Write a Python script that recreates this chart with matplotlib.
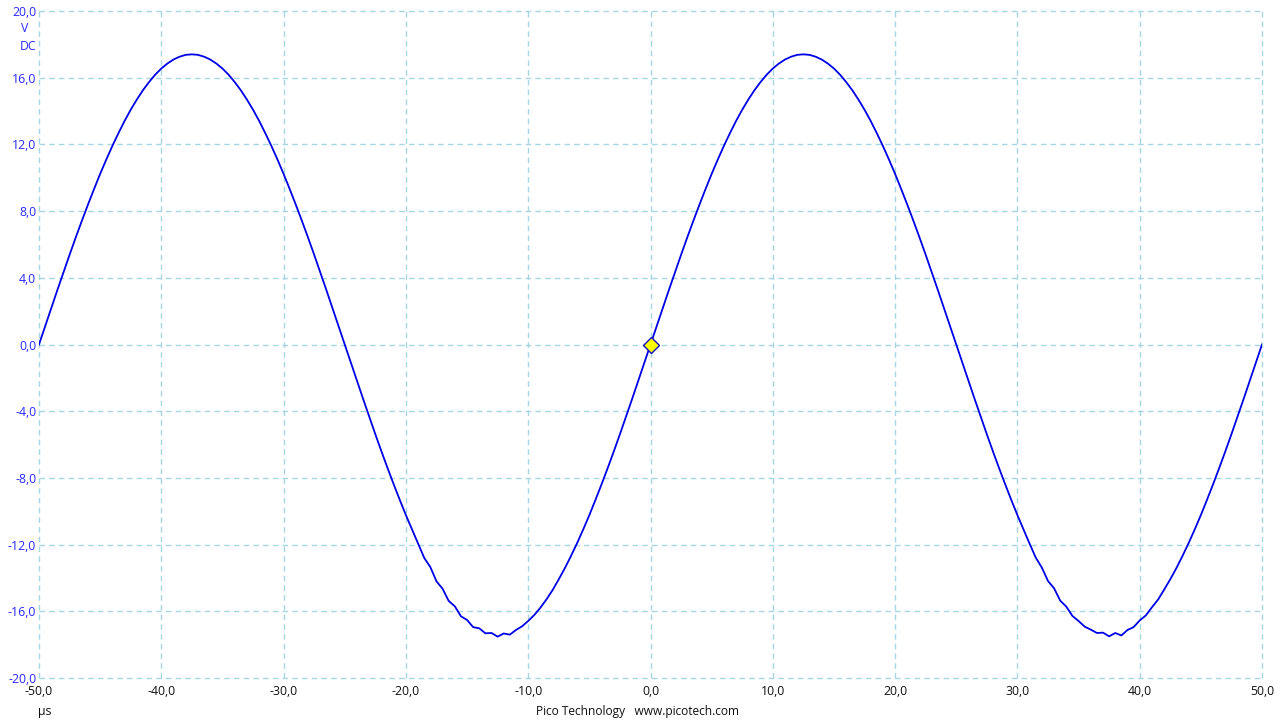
import numpy as np
import matplotlib.pyplot as plt

plt.rcParams['font.family'] = ['Open Sans', 'DejaVu Sans']

rise_1 = [0.00, 1.09, 2.18, 3.26, 4.33, 5.38, 6.41, 7.41, 8.38, 9.32, 10.23,
          11.09, 11.91, 12.68, 13.41, 14.08, 14.69, 15.25, 15.74, 16.18, 16.55,
          16.85, 17.09, 17.26, 17.37, 17.40, 17.37, 17.26, 17.09, 16.85, 16.55,
          16.18, 15.74, 15.25, 14.69, 14.08, 13.41, 12.68, 11.91, 11.09, 10.23,
          9.32, 8.38, 7.41, 6.41, 5.38, 4.33, 3.26, 2.18, 1.09, 0.00]
fall_1 = [-1.09, -2.18, -3.26, -4.33, -5.38, -6.41, -7.41, -8.38, -9.32, -10.23,
          -11.09, -11.95, -12.80, -13.35, -14.20, -14.65, -15.38, -15.70, -16.30,
          -16.52, -16.95, -17.02, -17.32, -17.30, -17.52, -17.33, -17.40, -17.12,
          -16.90, -16.58, -16.22, -15.78, -15.28, -14.72, -14.08, -13.41, -12.68,
          -11.91, -11.09, -10.23, -9.32, -8.38, -7.41, -6.41, -5.38, -4.33, -3.26,
          -2.18, -1.09, 0.00]
rise_2 = [1.09, 2.18, 3.26, 4.33, 5.38, 6.41, 7.41, 8.38, 9.32, 10.23,
          11.09, 11.91, 12.68, 13.41, 14.08, 14.69, 15.25, 15.74, 16.18, 16.55,
          16.85, 17.09, 17.26, 17.37, 17.40, 17.37, 17.26, 17.09, 16.85, 16.55,
          16.18, 15.74, 15.25, 14.69, 14.08, 13.41, 12.68, 11.91, 11.09, 10.23,
          9.32, 8.38, 7.41, 6.41, 5.38, 4.33, 3.26, 2.18, 1.09, 0.00]
fall_2 = [-1.09, -2.18, -3.26, -4.33, -5.38, -6.41, -7.41, -8.38, -9.32, -10.23,
          -11.09, -11.95, -12.78, -13.38, -14.18, -14.62, -15.36, -15.72, -16.28,
          -16.58, -16.92, -17.10, -17.30, -17.28, -17.50, -17.30, -17.45, -17.12,
          -16.95, -16.55, -16.25, -15.76, -15.30, -14.70, -14.08, -13.41, -12.68,
          -11.91, -11.09, -10.23, -9.32, -8.38, -7.41, -6.41, -5.38, -4.33, -3.26,
          -2.18, -1.09, 0.00]

volts = np.array(rise_1 + fall_1 + rise_2 + fall_2)
time_us = np.linspace(-50, 50, len(volts))

x_ticks = list(range(-50, 51, 10))
y_ticks = list(range(-20, 21, 4))
trigger = (0.0, 0.0)

def comma(v):
    return f"{v:.1f}".replace('.', ',')

fig = plt.figure(figsize=(12.8, 7.2), dpi=100)
ax = fig.add_axes([39/1280, 42/720, 1223/1280, 667/720])

ax.plot(time_us, volts, color='#0000e6', lw=1.3)
ax.plot(*trigger, marker='D', ms=8, mfc='#ffff00', mec='#1010c0', mew=1, zorder=5)

ax.set_xlim(-50, 50)
ax.set_ylim(-20, 20)
ax.set_xticks(x_ticks)
ax.set_xticklabels([comma(v) for v in x_ticks], fontsize=8.8, color='#101010')
ax.set_yticks(y_ticks)
ax.set_yticklabels([comma(v) for v in y_ticks], fontsize=8.8, color='#2828ff')
ax.tick_params(length=0, pad=2)
ax.tick_params(axis='x', pad=5)
for s in ax.spines.values():
    s.set_visible(False)
ax.grid(True, color='#a6d6e2', linestyle=(0, (4, 3)), lw=1)
for g in ax.get_xgridlines() + ax.get_ygridlines():
    g.set_clip_on(False)

fig.text(25/1280, 1 - 28/720, 'V', fontsize=8.8, color='#2828ff', ha='center', va='center')
fig.text(28/1280, 1 - 46/720, 'DC', fontsize=8.8, color='#2828ff', ha='center', va='center')
fig.text(45/1280, 1 - 712/720, 'µs', fontsize=8.8, color='#101010', ha='center', va='center')
fig.text(638/1280, 1 - 712/720, 'Pico Technology   www.picotech.com', fontsize=8.6,
         color='#101010', ha='center', va='center')

fig.savefig('out.png', dpi=100, facecolor='white')
